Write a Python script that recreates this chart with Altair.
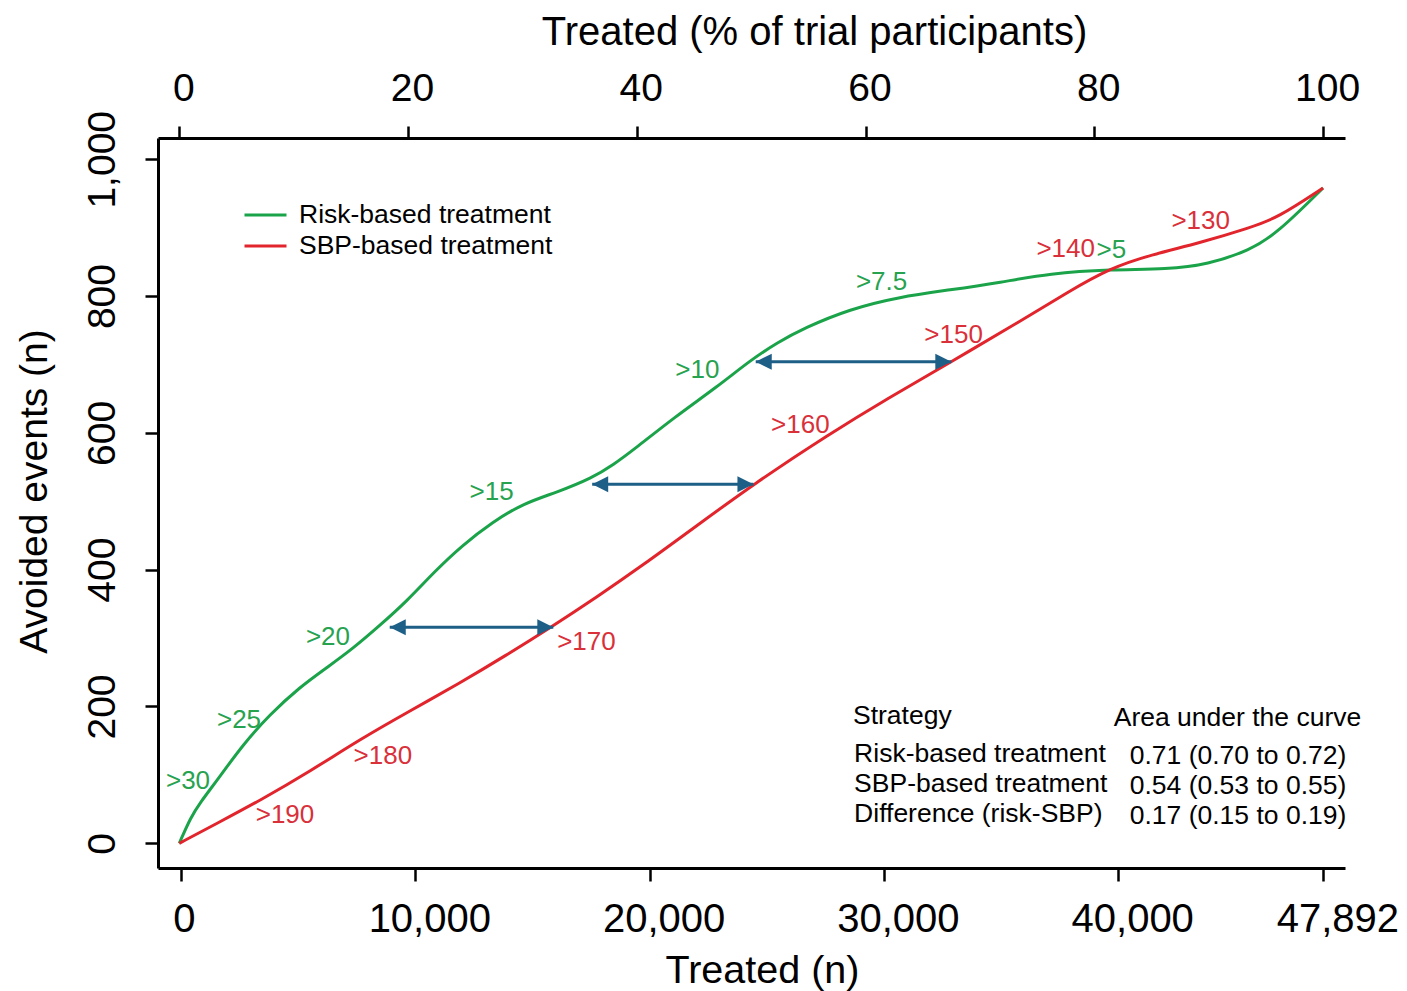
import altair as alt
import pandas as pd

FONT = "Liberation Sans, Arial, Helvetica, sans-serif"
GREEN = "#1ba34a"
RED = "#e2242c"
GREEN_TXT = "#27a24f"
RED_TXT = "#d9303a"
ARROW = "#1d5f87"

STRATEGIES = ["Risk-based treatment", "SBP-based treatment"]

# Cumulative avoided events against % of participants treated
risk_pct = [0, 1.0, 1.8, 3.3, 5.6, 7.9, 10.5, 13.0, 15.2, 17.5, 19.9, 22.3, 24.7,
            27.4, 30.1, 33.0, 36.1, 38.0, 39.7, 43.3, 47.0, 50.0, 52.3, 54.6,
            58.6, 63.0, 67.4, 71.8, 76.1, 81.4, 86.4, 89.9, 93.6, 96.0, 100]
risk_events = [0, 38, 59, 92, 145, 188, 228, 258, 285, 318, 354, 397, 435,
               470, 497, 513, 534, 554, 575, 623, 667, 707, 732, 753,
               781, 799, 809, 820, 833, 839, 839, 846, 867, 892, 958]

sbp_pct = [0, 3.5, 7.1, 11.5, 15.8, 20.0, 24.5, 28.5, 32.5, 36.5, 40.4, 45.3,
           50.2, 56.8, 62.0, 67.5, 73.8, 77.6, 81.4, 84.9, 89.3, 93.6, 96.0, 100]
sbp_events = [0, 31, 63, 106, 152, 192, 234, 274, 316, 360, 405, 465,
              525, 598, 651, 704, 766, 805, 841, 860, 878, 900, 914, 958]

# Threshold labels along each curve (risk in %, SBP in mmHg)
risk_labels = [">30", ">25", ">20", ">15", ">10", ">7.5", ">5"]
risk_label_pct = [0.76, 5.22, 13.0, 27.3, 45.3, 61.4, 81.5]
risk_label_events = [91, 180, 301, 513, 692, 820, 868]

sbp_labels = [">190", ">180", ">170", ">160", ">150", ">140", ">130"]
sbp_label_pct = [9.24, 17.8, 35.6, 54.3, 67.7, 77.5, 89.3]
sbp_label_events = [41, 127, 294, 611, 743, 869, 910]

# Horizontal gaps between the two strategies at equal benefit
arrow_events = [316, 525, 704]
arrow_from = [18.4, 36.1, 50.4]
arrow_to = [32.7, 50.2, 67.5]

# Summary table
table_text = ["Strategy", "Area under the curve",
              "Risk-based treatment", "0.71 (0.70 to 0.72)",
              "SBP-based treatment", "0.54 (0.53 to 0.55)",
              "Difference (risk-SBP)", "0.17 (0.15 to 0.19)"]
table_pct = [58.9, 81.7, 59.0, 83.1, 59.0, 83.1, 59.0, 83.1]
table_events = [186, 183, 130.6, 127.6, 86.8, 83.9, 42.8, 39.9]

# Count axis: ticks every 10,000, final tick at the full cohort (100 %)
count_ticks = [0, 10000, 20000, 30000, 40000]
cohort_label = "47,892"
count_at_full = 48758

pct_scale = alt.Scale(domain=[-1.862, 101.92], nice=False, zero=False)
ev_scale = alt.Scale(domain=[-36.1, 1031.1], nice=False, zero=False)

curves = pd.concat([
    pd.DataFrame({"strategy": STRATEGIES[0], "pct": risk_pct, "events": risk_events}),
    pd.DataFrame({"strategy": STRATEGIES[1], "pct": sbp_pct, "events": sbp_events}),
])

lines = alt.Chart(curves).mark_line(strokeWidth=3, interpolate="basis").encode(
    x=alt.X("pct:Q", scale=pct_scale,
            axis=alt.Axis(orient="top", values=[0, 20, 40, 60, 80, 100],
                          title="Treated (% of trial participants)",
                          labelFontSize=39, labelBaseline="alphabetic",
                          labelPadding=26, tickSize=12, labelOffset=4,
                          titleFontSize=40, titleX=656, titleY=-94,
                          titleAlign="center", titleBaseline="alphabetic")),
    y=alt.Y("events:Q", scale=ev_scale,
            axis=alt.Axis(values=[0, 200, 400, 600, 800, 1000], format=",d",
                          title="Avoided events (n)",
                          labelAngle=270, labelAlign="center",
                          labelBaseline="alphabetic", labelPadding=31,
                          labelFontSize=39, tickSize=13,
                          titleFontSize=39, titleAngle=270, titleX=-112,
                          titleY=353, titleAlign="center",
                          titleBaseline="alphabetic")),
    color=alt.Color("strategy:N",
                    scale=alt.Scale(domain=STRATEGIES, range=[GREEN, RED]),
                    legend=alt.Legend(title=None, orient="none", legendX=85,
                                      legendY=64, symbolType="stroke",
                                      symbolSize=1764, symbolStrokeWidth=3,
                                      labelFontSize=26.5, labelFont=FONT,
                                      labelColor="black", labelOffset=11,
                                      labelLimit=0, clipHeight=26,
                                      rowPadding=4, padding=0)),
)

arrows_df = pd.DataFrame({"y": arrow_events, "x0": arrow_from, "x1": arrow_to})
arrow_shafts = alt.Chart(arrows_df).mark_rule(color=ARROW, strokeWidth=3).encode(
    x=alt.X("x0:Q", scale=pct_scale),
    x2="x1:Q",
    y=alt.Y("y:Q", scale=ev_scale),
)
head_left = alt.Chart(arrows_df).mark_point(
    shape="M0,0L2,-1L2,1Z", filled=True, size=256, color=ARROW, opacity=1,
    strokeWidth=0).encode(
    x=alt.X("x0:Q", scale=pct_scale),
    y=alt.Y("y:Q", scale=ev_scale),
)
head_right = alt.Chart(arrows_df).mark_point(
    shape="M0,0L-2,-1L-2,1Z", filled=True, size=256, color=ARROW, opacity=1,
    strokeWidth=0).encode(
    x=alt.X("x1:Q", scale=pct_scale),
    y=alt.Y("y:Q", scale=ev_scale),
)

risk_txt = alt.Chart(pd.DataFrame({
    "t": risk_labels, "pct": risk_label_pct, "events": risk_label_events})
).mark_text(font=FONT, fontSize=26, color=GREEN_TXT, align="center",
            baseline="middle").encode(
    x=alt.X("pct:Q", scale=pct_scale), y=alt.Y("events:Q", scale=ev_scale),
    text="t:N")

sbp_txt = alt.Chart(pd.DataFrame({
    "t": sbp_labels, "pct": sbp_label_pct, "events": sbp_label_events})
).mark_text(font=FONT, fontSize=26, color=RED_TXT, align="center",
            baseline="middle").encode(
    x=alt.X("pct:Q", scale=pct_scale), y=alt.Y("events:Q", scale=ev_scale),
    text="t:N")

table = alt.Chart(pd.DataFrame({
    "t": table_text, "pct": table_pct, "events": table_events})
).mark_text(font=FONT, fontSize=26.5, color="black", align="left",
            baseline="middle").encode(
    x=alt.X("pct:Q", scale=pct_scale), y=alt.Y("events:Q", scale=ev_scale),
    text="t:N")

main = alt.layer(lines, arrow_shafts, head_left, head_right, risk_txt, sbp_txt, table)

count_vals = count_ticks + [count_at_full]
count_axis = alt.Chart(pd.DataFrame({"n": count_vals})).mark_point(opacity=0).encode(
    x=alt.X("n:Q",
            scale=alt.Scale(domain=[-981.6, 49680], nice=False, zero=False),
            axis=alt.Axis(orient="bottom", values=count_vals,
                          labelExpr=f"datum.value > 45000 ? '{cohort_label}' : format(datum.value, ',')",
                          labelOffset={"condition": {"test": "datum.value == 0", "value": 3},
                                       "value": 14},
                          title="Treated (n)", labelFontSize=40,
                          labelBaseline="alphabetic", labelPadding=50,
                          tickSize=13, titleFontSize=39.5, titleX=604,
                          titleY=114, titleAlign="center",
                          titleBaseline="alphabetic")),
)

chart = alt.layer(main, count_axis).resolve_scale(x="independent").properties(
    width=1187, height=730,
    autosize=alt.AutoSizeParams(type="none"),
    padding={"left": 158, "top": 138, "right": 62, "bottom": 123},
    background="white",
).configure_view(stroke=None).configure_axis(
    domainColor="black", domainWidth=3, tickColor="black", tickWidth=2.5,
    grid=False, labelFont=FONT, labelColor="black", titleFont=FONT,
    titleColor="black", titleFontWeight="normal", labelFlush=False,
    labelOverlap=False, labelBound=False,
)

chart.save("out.html", embed_options={"renderer": "svg", "actions": False})
